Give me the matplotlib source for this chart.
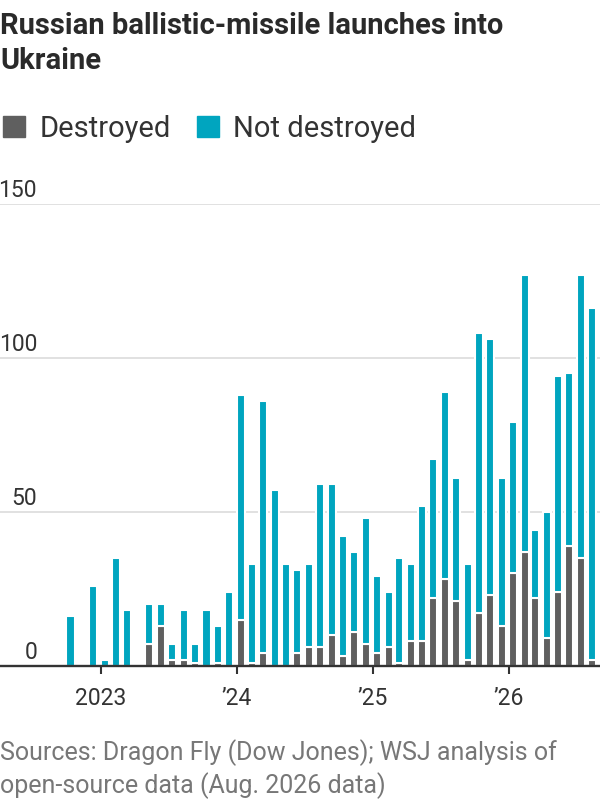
import matplotlib
matplotlib.use("Agg")
import matplotlib.pyplot as plt
import matplotlib.dates as mdates
from matplotlib.patches import Rectangle
import numpy as np
import pandas as pd

# ---------------- data ----------------
months = ["2022-10", "2022-11", "2022-12",
          "2023-01", "2023-02", "2023-03", "2023-04", "2023-05", "2023-06",
          "2023-07", "2023-08", "2023-09", "2023-10", "2023-11", "2023-12",
          "2024-01", "2024-02", "2024-03", "2024-04", "2024-05", "2024-06",
          "2024-07", "2024-08", "2024-09", "2024-10", "2024-11", "2024-12",
          "2025-01", "2025-02", "2025-03", "2025-04", "2025-05", "2025-06",
          "2025-07", "2025-08", "2025-09", "2025-10", "2025-11", "2025-12",
          "2026-01", "2026-02", "2026-03", "2026-04", "2026-05", "2026-06",
          "2026-07", "2026-08"]
total = [16, 0, 26,
         2, 35, 18, 0, 20, 20,
         7, 18, 7, 18, 13, 24,
         88, 33, 86, 57, 33, 31,
         33, 59, 59, 42, 37, 48,
         29, 24, 35, 33, 52, 67,
         89, 61, 33, 108, 106, 61,
         79, 127, 44, 50, 94, 95,
         127, 116]
destroyed = [0, 0, 0,
             0, 0, 0, 0, 7, 13,
             2, 2, 1, 0, 1, 0,
             15, 1, 4, 0, 0, 4,
             6, 6, 10, 3, 11, 7,
             4, 6, 1, 8, 8, 22,
             28, 21, 2, 17, 23, 13,
             30, 37, 22, 9, 24, 39,
             35, 2]
y_ticks = [0, 50, 100, 150]
x_tick_years = ["2023-01-01", "2024-01-01", "2025-01-01", "2026-01-01"]
x_tick_labels = ["2023", "\u201924", "\u201925", "\u201926"]
title_lines = ["Russian ballistic-missile launches into", "Ukraine"]
legend_labels = ["Destroyed", "Not destroyed"]
source_lines = ["Sources: Dragon Fly (Dow Jones); WSJ analysis of",
                "open-source data (Aug. 2026 data)"]

# ---------------- style ----------------
GRAY = "#5f5f5f"
BLUE = "#00a5bf"
TXT = "#333333"
plt.rcParams["font.family"] = ["Roboto", "DejaVu Sans"]

W, H = 600, 800
fig = plt.figure(figsize=(W / 100, H / 100), dpi=100)

def fx(px):
    return px / W

def fy(py):
    return 1 - py / H

# axes: x 0..600 px, baseline at y=665.7 px, 150 at y=203.7 px
ax = fig.add_axes([0, fy(665.7), 1, (665.7 - 203.7) / H])

dates = pd.to_datetime(months, format="%Y-%m")
xd = mdates.date2num(dates)
tot = np.array(total, dtype=float)
des = np.array(destroyed, dtype=float)
notdes = tot - des

ref0 = mdates.date2num(pd.Timestamp("2023-01-01"))
px_per_day = 136.0 / 365.0
ax.set_xlim(ref0 - 100.7 / px_per_day, ref0 + (600 - 100.7) / px_per_day)
ax.set_ylim(0, 150)

bar_w = 21.7  # days
ax.bar(xd, des, width=bar_w, align="edge", color=GRAY,
       edgecolor="white", linewidth=1.5, zorder=3)
ax.bar(xd, notdes, bottom=des, width=bar_w, align="edge", color=BLUE,
       edgecolor="white", linewidth=1.5, zorder=3)

for v in y_ticks[1:]:
    ax.axhline(v, color="#e1e1e1", lw=1.4, zorder=1)

for s in ["top", "left", "right"]:
    ax.spines[s].set_visible(False)
ax.spines["bottom"].set_color(TXT)
ax.spines["bottom"].set_linewidth(1.7)
ax.spines["bottom"].set_zorder(5)

ax.set_yticks([])
ax.set_xticks(mdates.date2num(pd.to_datetime(x_tick_years)))
ax.set_xticklabels(x_tick_labels)
ax.tick_params(axis="x", direction="out", length=6, width=1.5, color=TXT,
               labelsize=16.5, labelcolor=TXT, pad=9)

# y labels above gridlines
for v in y_ticks:
    ax.annotate(str(v), xy=(fx(37), v), xycoords=("figure fraction", "data"),
                xytext=(0, 6.5), textcoords="offset pixels",
                ha="right", va="baseline", fontsize=16.5, color=TXT,
                annotation_clip=False)

# title
fig.text(0, fy(34.5), title_lines[0], fontsize=21, fontweight="bold",
         color="#2a2a2a", ha="left", va="baseline")
fig.text(0, fy(69), title_lines[1], fontsize=21, fontweight="bold",
         color="#2a2a2a", ha="left", va="baseline")

# legend
for (x0, x1), col, lab, tx in [((3, 25), GRAY, legend_labels[0], 40),
                                ((197, 219), BLUE, legend_labels[1], 233)]:
    fig.patches.append(Rectangle((fx(x0), fy(137)), fx(x1 - x0), (137 - 116) / H,
                                 transform=fig.transFigure, color=col,
                                 figure=fig))
    fig.text(fx(tx), fy(137), lab, fontsize=21, color=TXT,
             ha="left", va="baseline")

# sources
fig.text(0, fy(760), source_lines[0], fontsize=18, color="#777777",
         ha="left", va="baseline")
fig.text(0, fy(793), source_lines[1], fontsize=18, color="#777777",
         ha="left", va="baseline")

fig.savefig("out.png", dpi=100, facecolor="white")
